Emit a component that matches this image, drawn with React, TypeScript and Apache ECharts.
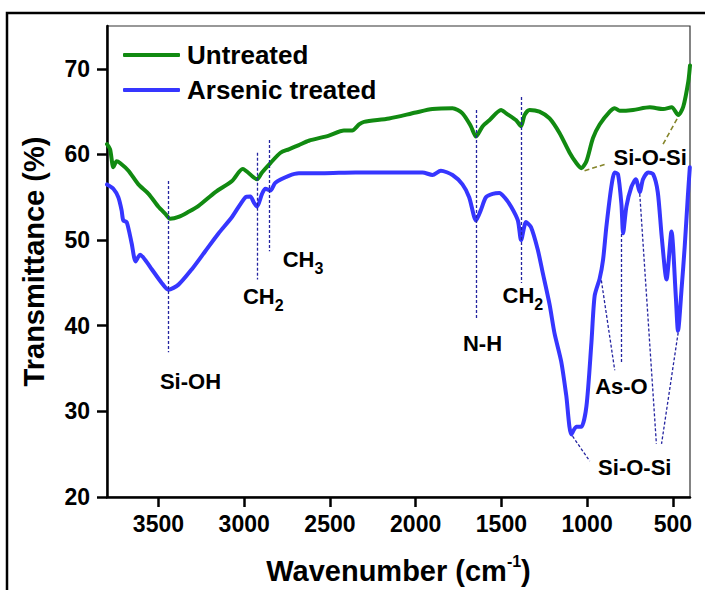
import React, { useEffect, useRef } from 'react';
import * as echarts from 'echarts';

// Untreated (green)
const greenWave = [3800, 3782, 3763, 3744, 3724, 3675, 3617, 3558, 3500, 3461, 3432, 3383, 3325, 3266, 3168, 3071, 3009, 2925, 2896, 2847, 2788, 2740, 2681, 2623, 2506, 2418, 2370, 2330, 2301, 2155, 1999, 1902, 1785, 1727, 1678, 1648, 1609, 1570, 1502, 1472, 1414, 1385, 1365, 1336, 1278, 1219, 1161, 1102, 1063, 1034, 1004, 966, 927, 868, 839, 810, 732, 634, 556, 507, 468, 439, 410, 400];
const greenT = [61.2, 60.6, 58.5, 59.2, 59.0, 58.1, 56.5, 55.4, 53.9, 53.1, 52.5, 52.7, 53.3, 54.0, 55.6, 56.9, 58.3, 57.1, 57.9, 59.0, 60.2, 60.6, 61.1, 61.6, 62.2, 62.8, 62.8, 63.5, 63.8, 64.2, 64.9, 65.3, 65.4, 64.8, 63.3, 62.1, 63.3, 64.0, 65.2, 64.8, 64.0, 63.3, 64.6, 65.2, 65.0, 64.2, 62.5, 60.2, 59.0, 58.4, 59.2, 61.9, 63.5, 65.0, 65.4, 65.1, 65.2, 65.5, 65.3, 65.5, 64.6, 65.6, 68.5, 70.4];

// Arsenic treated (blue)
const blueWave = [3800, 3763, 3734, 3715, 3705, 3685, 3656, 3633, 3607, 3578, 3539, 3481, 3442, 3383, 3305, 3227, 3149, 3071, 2993, 2964, 2944, 2925, 2896, 2876, 2847, 2818, 2740, 2681, 2545, 2350, 2155, 1960, 1902, 1853, 1785, 1727, 1688, 1648, 1620, 1590, 1551, 1512, 1482, 1443, 1404, 1385, 1356, 1327, 1288, 1259, 1219, 1190, 1151, 1122, 1092, 1063, 1034, 1004, 975, 956, 927, 907, 888, 859, 839, 820, 800, 790, 771, 742, 716, 693, 674, 644, 615, 588, 565, 537, 508, 483, 470, 448, 431, 413, 401];
const blueT = [56.5, 56.0, 55.0, 53.5, 52.3, 52.1, 49.6, 47.5, 48.3, 47.7, 46.6, 45.0, 44.2, 44.8, 46.6, 48.7, 50.8, 52.7, 55.0, 55.1, 54.4, 53.9, 55.4, 56.0, 55.8, 56.7, 57.5, 57.8, 57.8, 57.9, 57.9, 57.9, 57.6, 58.1, 57.6, 56.5, 55.0, 52.3, 53.5, 55.0, 55.4, 55.5, 55.0, 53.9, 52.3, 50.0, 52.1, 51.5, 48.9, 46.2, 42.5, 39.1, 35.8, 31.9, 27.3, 28.2, 28.2, 30.6, 38.0, 43.5, 45.5, 47.7, 51.5, 56.2, 57.9, 57.7, 54.2, 50.8, 53.9, 56.2, 57.1, 55.6, 57.1, 57.9, 57.7, 55.6, 50.4, 45.4, 51.0, 43.5, 39.4, 44.6, 49.2, 55.0, 58.5];

// axis ticks
const xTicks = [500, 1000, 1500, 2000, 2500, 3000, 3500];
const yTicks = [20, 30, 40, 50, 60, 70];

// band annotations
const annotLabels = ['Si-OH', 'CH2', 'CH3', 'N-H', 'CH2', 'As-O', 'Si-O-Si', 'Si-O-Si'];
const annotWave = [3313, 2889, 2657, 1610, 1375, 800, 722, 632];
const annotT = [33.5, 43.4, 47.7, 37.9, 43.5, 32.9, 23.5, 59.6];

// blue dotted guide lines (from -> to)
const guideWaveFrom = [3440, 2925, 2853, 1648, 1383, 917, 800, 693, 469, 1085];
const guideTFrom = [56.9, 60.2, 61.7, 65.2, 66.7, 45.3, 50.7, 55.4, 39.2, 27.1];
const guideWaveTo = [3440, 2925, 2853, 1648, 1383, 839, 800, 596, 566, 985];
const guideTTo = [36.9, 45.4, 48.7, 40.8, 45.0, 34.8, 35.6, 26.2, 26.2, 24.2];

// olive dashed guide lines (untreated Si-O-Si)
const oliveWaveFrom = [1015, 557];
const oliveTFrom = [58.1, 61.2];
const oliveWaveTo = [888, 469];
const oliveTTo = [58.9, 64.4];

export default function App() {
  const ref = useRef<HTMLDivElement>(null);
  useEffect(() => {
    if (!ref.current) return;
    const chart = echarts.init(ref.current, null, { renderer: 'svg' });
    const font = 'Arial, "Liberation Sans", Helvetica, sans-serif';
    const zip = (a: number[], b: number[]) => a.map((v, i) => [v, b[i]]);
    const segs = (wf: number[], tf: number[], wt: number[], tt: number[]) =>
      wf.map((w, i) => [{ coord: [w, tf[i]] }, { coord: [wt[i], tt[i]] }]);
    const fmt = (s: string) => {
      const m = s.match(/^CH(\d)$/);
      return m ? `{m|CH}{s|${m[1]}}` : s;
    };

    const option: any = {
      animation: false,
      backgroundColor: '#ffffff',
      textStyle: { fontFamily: font },
      graphic: [
        {
          type: 'rect',
          silent: true,
          z: -10,
          shape: { x: 7, y: 13, width: 740, height: 640 },
          style: { fill: 'none', stroke: '#000', lineWidth: 2.5 },
        },
      ],
      grid: {
        left: 107,
        right: 15,
        top: 26,
        bottom: 86,
        show: true,
        borderColor: '#333',
        borderWidth: 1.2,
        backgroundColor: 'transparent',
      },
      legend: {
        orient: 'vertical',
        left: 123,
        top: 42,
        padding: 0,
        itemGap: 9,
        itemWidth: 57,
        itemHeight: 4,
        icon: 'roundRect',
        data: ['Untreated', 'Arsenic treated'],
        textStyle: {
          fontSize: 26,
          fontWeight: 'bold',
          color: '#000',
          fontFamily: font,
          lineHeight: 26,
          padding: [0, 0, 0, 2],
        },
      },
      xAxis: {
        type: 'value',
        min: 400,
        max: 3800,
        inverse: true,
        name: '{m|Wavenumber (cm}{sup|-1}{m|)}',
        nameLocation: 'middle',
        nameGap: 56,
        nameTextStyle: {
          color: '#000',
          fontFamily: font,
          rich: {
            m: { fontSize: 29, fontWeight: 'bold', color: '#000', fontFamily: font, lineHeight: 32, verticalAlign: 'bottom' },
            sup: { fontSize: 16, fontWeight: 'bold', color: '#000', fontFamily: font, lineHeight: 17, verticalAlign: 'top' },
          },
        },
        axisLine: { show: true, lineStyle: { color: '#000', width: 2.5 } },
        axisTick: { show: true, inside: false, length: 10, customValues: xTicks, lineStyle: { color: '#000', width: 2.5 } },
        axisLabel: {
          customValues: xTicks,
          formatter: (v: number) => String(v),
          margin: 15,
          fontSize: 23,
          fontWeight: 'bold',
          color: '#000',
          fontFamily: font,
        },
        splitLine: { show: false },
      },
      yAxis: {
        type: 'value',
        min: 20,
        max: 75,
        name: 'Transmittance (%)',
        nameLocation: 'middle',
        nameGap: 59,
        nameTextStyle: { fontSize: 29, fontWeight: 'bold', color: '#000', fontFamily: font },
        axisLine: { show: true, lineStyle: { color: '#000', width: 2.5 } },
        axisTick: { show: true, inside: false, length: 10, customValues: yTicks, lineStyle: { color: '#000', width: 2.5 } },
        axisLabel: {
          customValues: yTicks,
          formatter: (v: number) => String(v),
          margin: 17,
          fontSize: 23,
          fontWeight: 'bold',
          color: '#000',
          fontFamily: font,
        },
        splitLine: { show: false },
      },
      series: [
        {
          name: 'Untreated',
          type: 'line',
          data: zip(greenWave, greenT),
          symbol: 'none',
          smooth: 0.25,
          color: '#118a11',
          lineStyle: { color: '#118a11', width: 4, cap: 'round', join: 'round' },
          z: 3,
          markLine: {
            silent: true,
            symbol: ['none', 'none'],
            label: { show: false },
            lineStyle: { color: '#85852a', type: [5, 3], width: 1.6 },
            data: segs(oliveWaveFrom, oliveTFrom, oliveWaveTo, oliveTTo),
          },
        },
        {
          name: 'Arsenic treated',
          type: 'line',
          data: zip(blueWave, blueT),
          symbol: 'none',
          smooth: 0.25,
          color: '#3636ff',
          lineStyle: { color: '#3636ff', width: 4, cap: 'round', join: 'round' },
          z: 3,
          markLine: {
            silent: true,
            symbol: ['none', 'none'],
            label: { show: false },
            lineStyle: { color: '#2424a0', type: [3, 2], width: 1.3 },
            data: segs(guideWaveFrom, guideTFrom, guideWaveTo, guideTTo),
          },
        },
        {
          name: 'annotations',
          type: 'scatter',
          symbolSize: 0,
          itemStyle: { color: '#000', opacity: 1 },
          silent: true,
          z: 5,
          label: {
            show: true,
            position: 'inside',
            color: '#000',
            opacity: 1,
            textBorderWidth: 0,
            fontSize: 22,
            fontWeight: 'bold',
            fontFamily: font,
            rich: {
              m: { fontSize: 22, fontWeight: 'bold', color: '#000', fontFamily: font },
              s: { fontSize: 16, fontWeight: 'bold', color: '#000', fontFamily: font, padding: [17, 0, 0, 0] },
            },
          },
          data: annotLabels.map((t, i) => ({
            value: [annotWave[i], annotT[i]],
            label: { formatter: fmt(t) },
          })),
        },
      ],
    };
    chart.setOption(option);
    return () => chart.dispose();
  }, []);
  return (
    <div
      ref={ref}
      style={{ position: 'fixed', left: 0, top: 0, width: 705, height: 590, background: '#fff' }}
    />
  );
}
